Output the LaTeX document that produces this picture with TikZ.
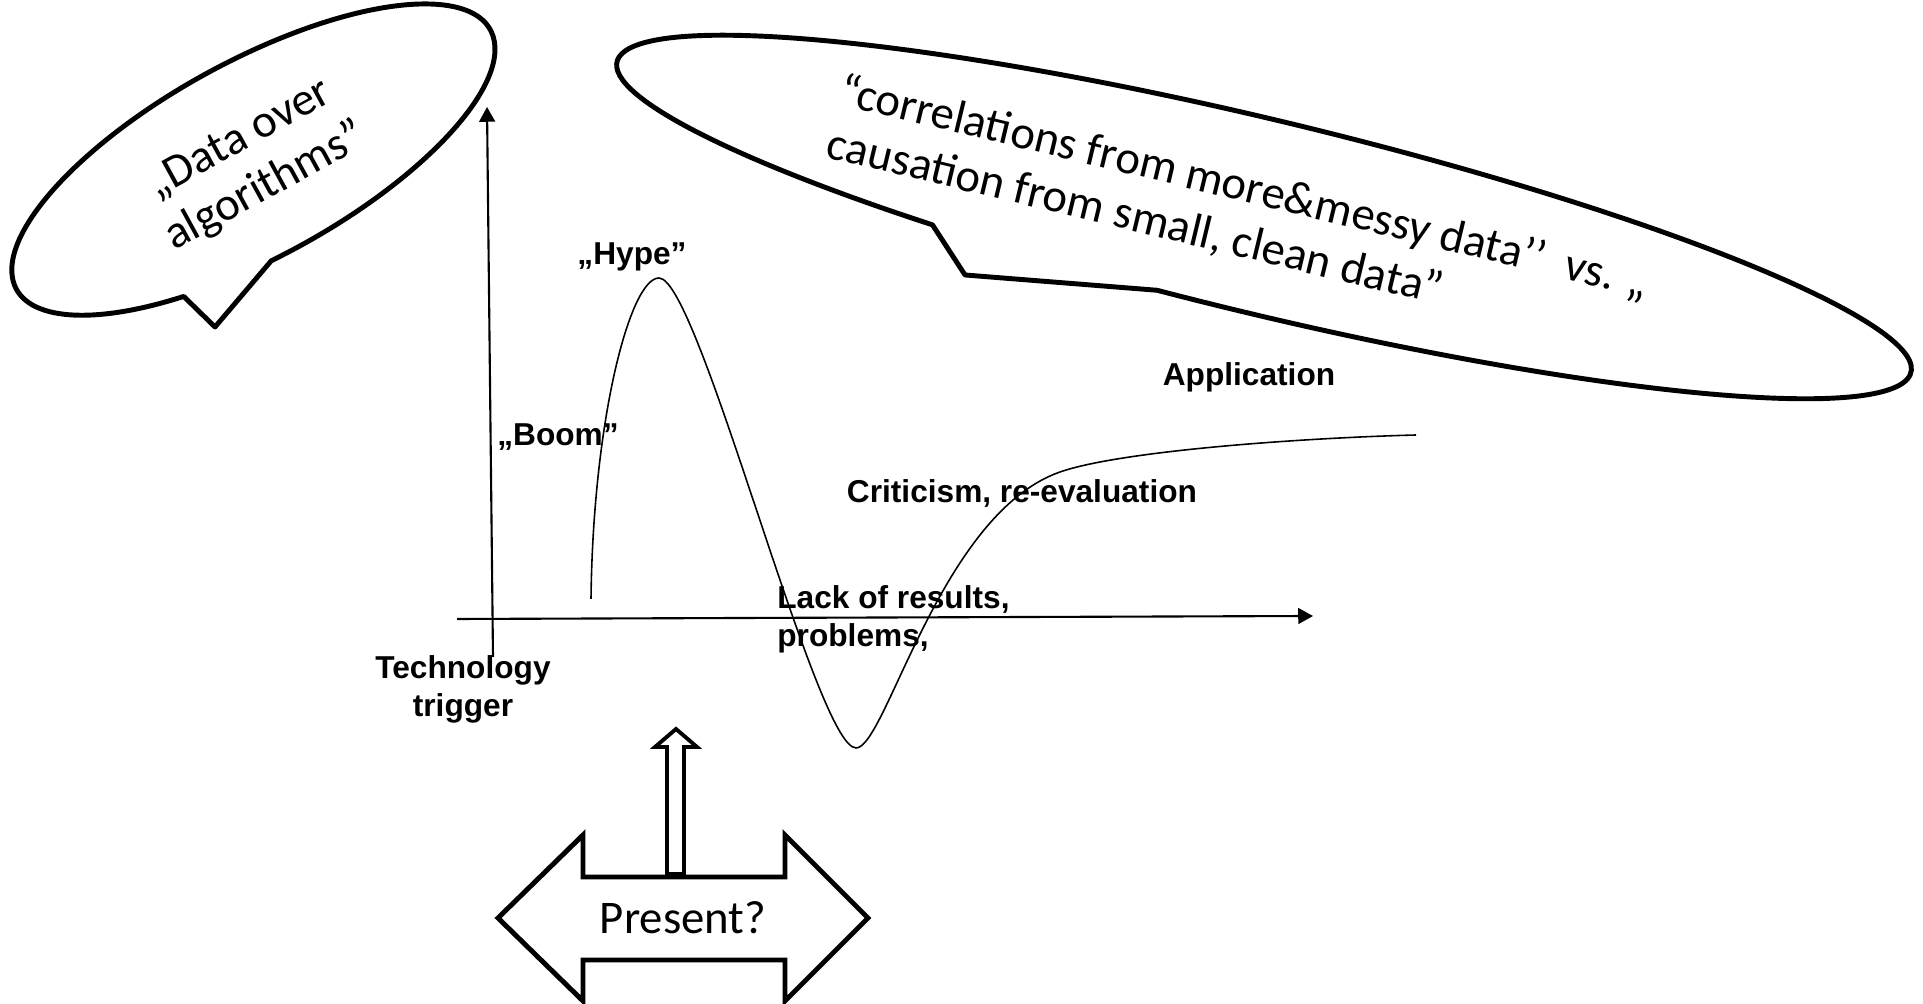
\documentclass[tikz,border=0pt]{standalone}
\usepackage{fontspec}
\newfontfamily\labelfont{Liberation Sans}
\newfontfamily\sayfont{Carlito}
\usetikzlibrary{arrows.meta}

\begin{document}
\begin{tikzpicture}[x=0.01cm,y=0.01cm,
   phase/.style={font=\labelfont\bfseries\fontsize{9}{10.7}\selectfont,inner sep=0pt},
   say/.style={font=\sayfont\fontsize{13.3}{15.5}\selectfont,inner sep=0pt},
   bubble/.style={draw,line width=1.4pt,fill=white,line join=round},
   axisline/.style={-{Triangle[length=4.2pt,width=4.5pt]},line width=0.6pt},
   hypecurve/.style={line width=0.45pt},
   block/.style={draw,line width=1.4pt,fill=white,line join=miter}]
\useasboundingbox (0,0) rectangle (1923,-1004);

% speech bubbles
\coordinate (ltip) at (215,-327);
\coordinate (rtip) at (965,-275);
\begin{scope}[shift={(253.4,-159.6)},rotate=28.7]
\draw[bubble] (263:2.70cm and 0.98cm) arc[start angle=263,end angle=602,x radius=2.70cm,y radius=0.98cm] -- (ltip) -- cycle;
\end{scope}
\begin{scope}[shift={(1264,-217)},rotate=-13.5]
\draw[bubble] (262.5:6.65cm and 0.97cm) arc[start angle=262.5,end angle=601.2,x radius=6.65cm,y radius=0.97cm] -- (rtip) -- cycle;
\end{scope}
\node[say,rotate=28.7,align=center] (lsay) at (253,-164) {„Data over\\algorithms”};
\node[say,rotate=-13.5,align=left] (rsay) at (1238,-214) {“correlations from more\&messy data’’~~vs. „\\causation from small, clean data”};

% axes
\coordinate (yfoot) at (493,-657);
\coordinate (ytop) at (487,-107);
\coordinate (xfoot) at (457,-619);
\coordinate (xend) at (1313,-616);
\draw[axisline] (yfoot) -- (ytop);
\draw[axisline] (xfoot) -- (xend);

% phases
\node[phase,anchor=base] (hype) at (632,-265) {„Hype”};
\node[phase,anchor=base] (boom) at (558,-446) {„Boom”};
\node[phase,anchor=base] (appl) at (1249,-386) {Application};
\node[phase,anchor=base] (crit) at (1022,-503) {Criticism, re-evaluation};
\node[phase,anchor=west,align=left] (lack) at (776.7,-619.6) {Lack of results,\\problems,};
\node[phase,align=center] (trig) at (463,-689.3) {Technology\\trigger};

% hype curve
\coordinate (start) at (591,-599);
\coordinate (peak) at (659,-278);
\coordinate (trough) at (856,-748);
\coordinate (slope) at (1060,-472);
\coordinate (plateau) at (1416,-435);
\draw[hypecurve] (start) .. controls (593,-420) and (630,-278) .. (peak)
   .. controls (699,-278) and (816,-748) .. (trough)
   .. controls (886,-748) and (940,-514) .. (slope)
   .. controls (1120,-451) and (1300,-438) .. (plateau);

% present
\draw[block] (498,-918) -- (583,-835) -- (583,-877) -- (785,-877) -- (785,-835) -- (868,-918)
   -- (785,-1001) -- (785,-960) -- (583,-960) -- (583,-1001) -- cycle;
\node[say] (present) at (683,-918) {Present?};
\draw[block,line width=1.1pt] (667,-874) -- (667,-747) -- (655,-747) -- (676,-729) -- (697,-747)
   -- (684,-747) -- (684,-874) -- cycle;
\end{tikzpicture}
\end{document}
